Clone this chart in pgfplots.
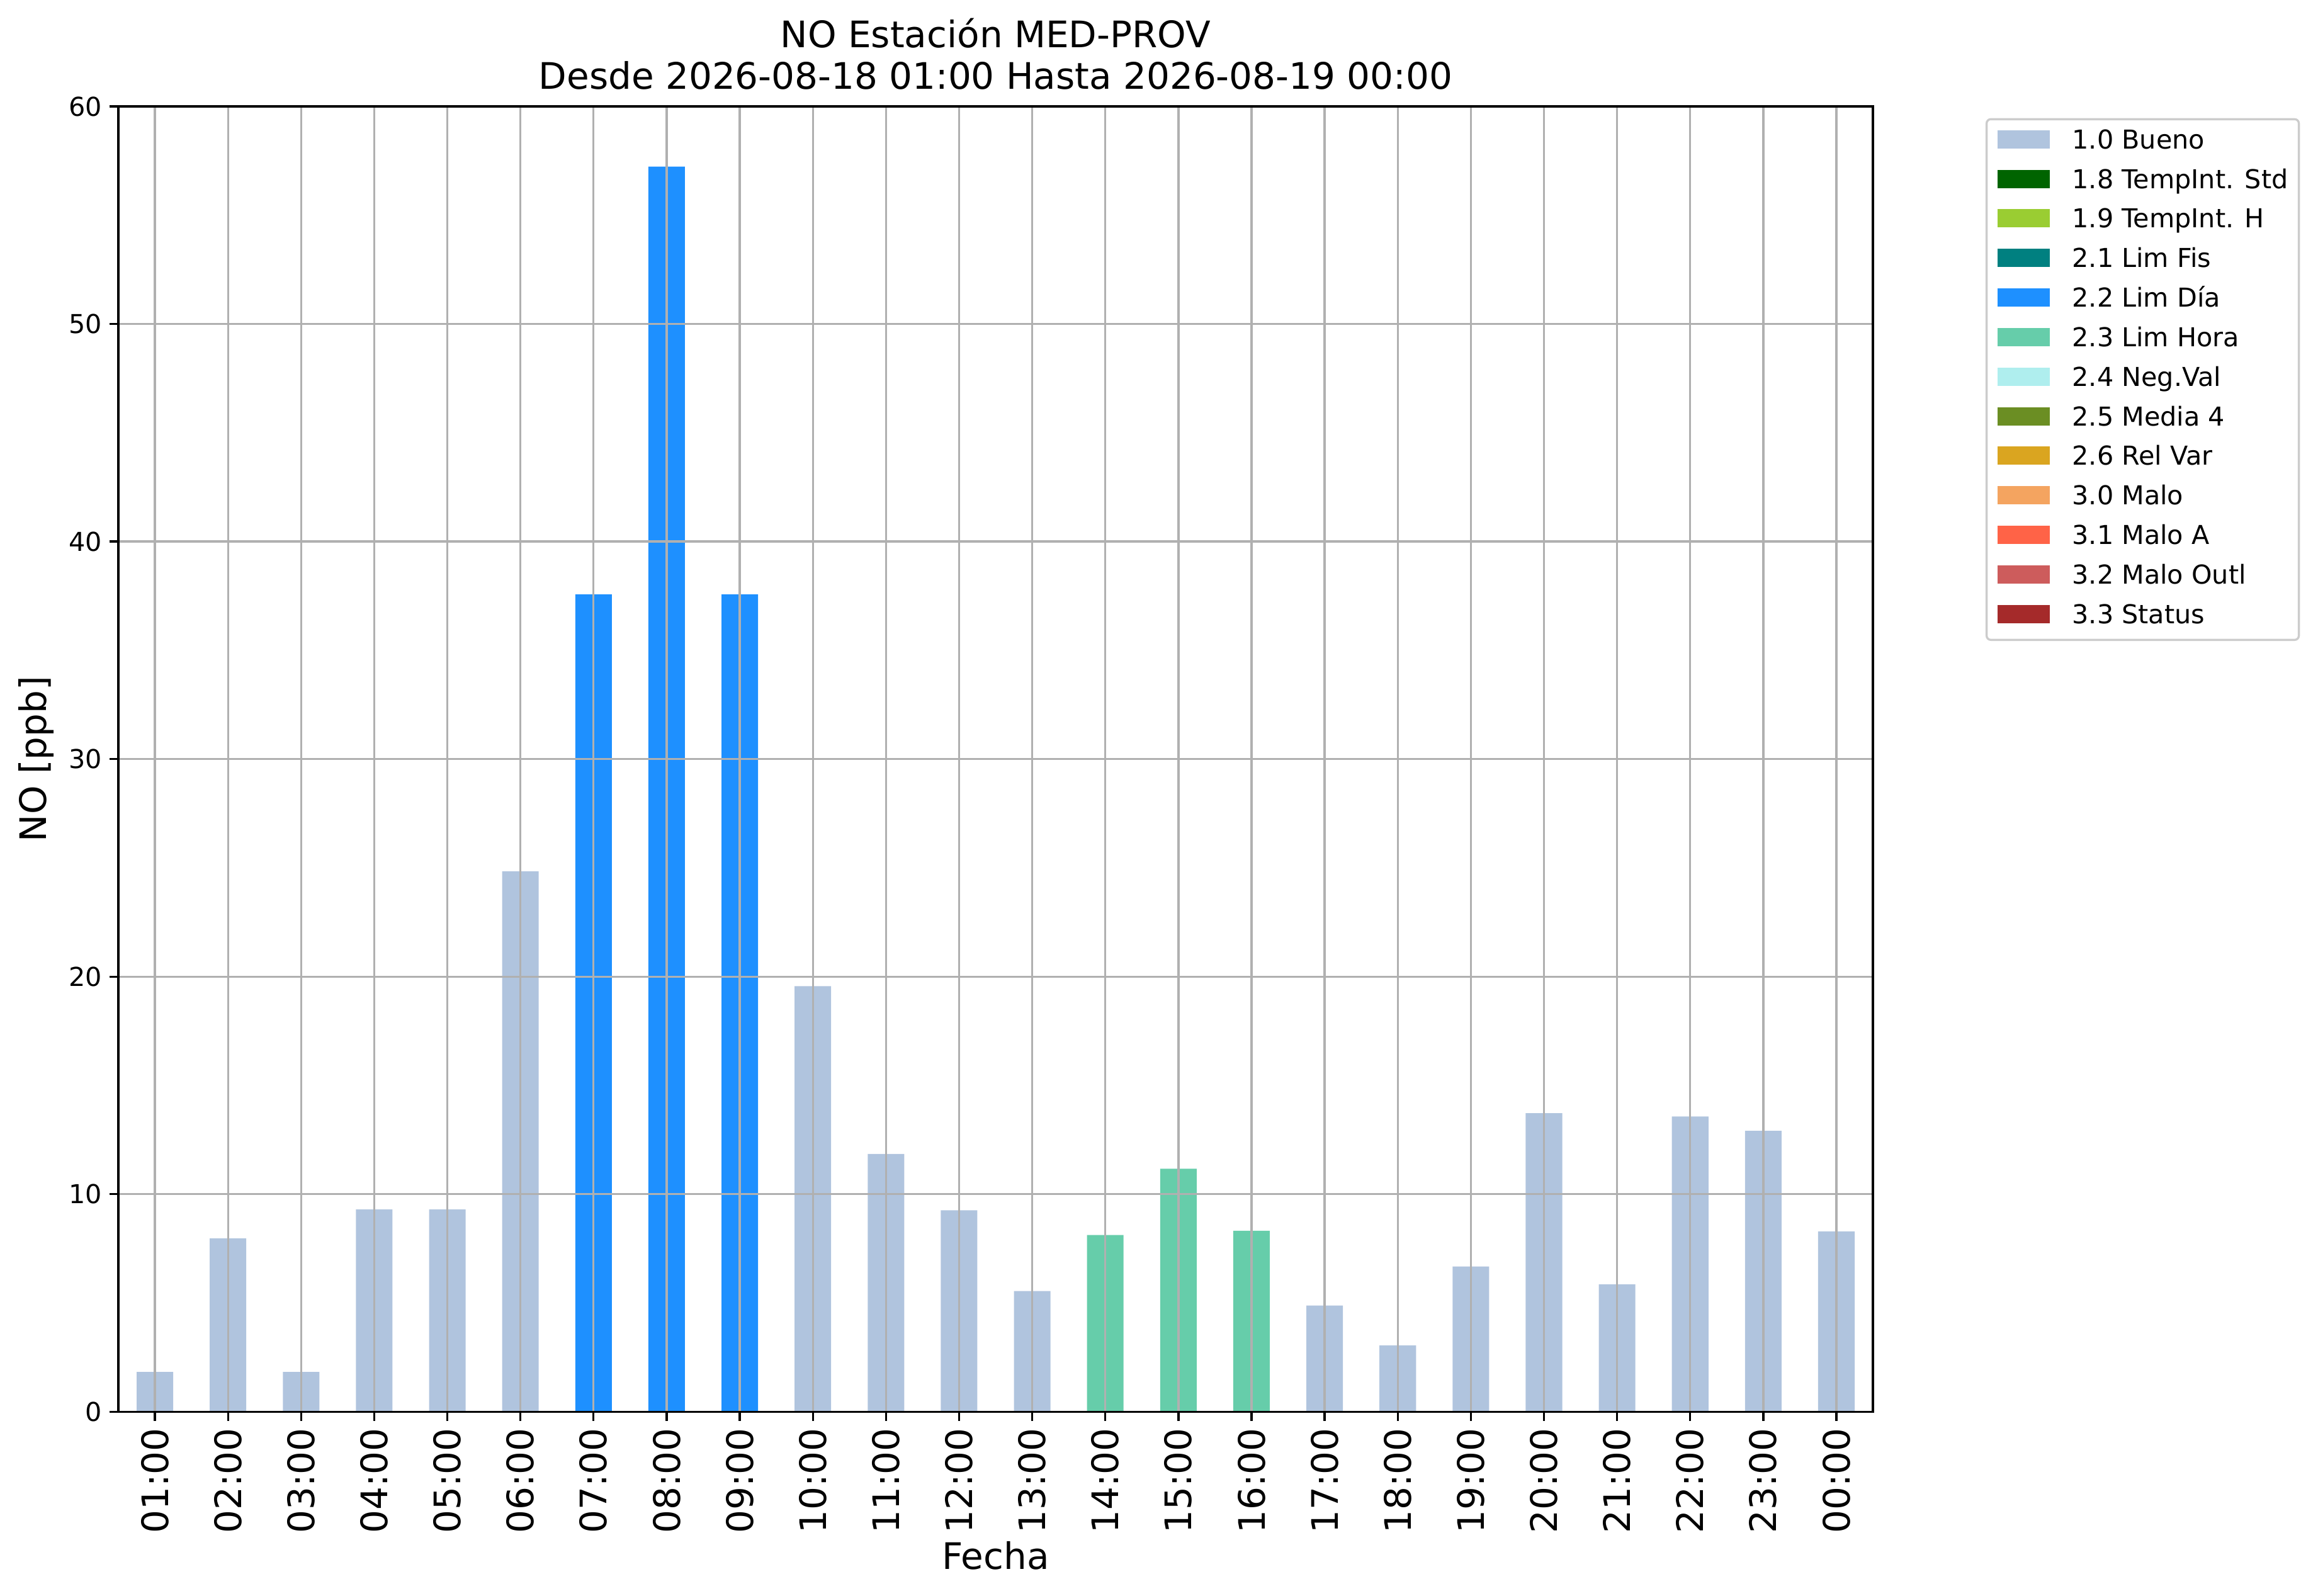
\documentclass[border=0pt]{standalone}
\usepackage{pgfplots}
\pgfplotsset{compat=1.18}
\usepackage{fontspec}
\setmainfont{DejaVu Sans}
\definecolor{cBueno}{HTML}{B0C4DE}
\definecolor{cTStd}{HTML}{006400}
\definecolor{cTH}{HTML}{9ACD32}
\definecolor{cFis}{HTML}{008080}
\definecolor{cDia}{HTML}{1E90FF}
\definecolor{cHora}{HTML}{66CDAA}
\definecolor{cNeg}{HTML}{AFEEEE}
\definecolor{cMedia}{HTML}{6B8E23}
\definecolor{cRel}{HTML}{DAA520}
\definecolor{cMalo}{HTML}{F4A460}
\definecolor{cMaloA}{HTML}{FF6347}
\definecolor{cOutl}{HTML}{CD5C5C}
\definecolor{cStatus}{HTML}{A52A2A}
\definecolor{gridgray}{HTML}{B0B0B0}
\begin{document}
\begin{tikzpicture}
\path[use as bounding box] (0,0) rectangle (1104.6pt,760.2pt);
\begin{axis}[
  at={(56.4pt,87.5pt)}, anchor=south west,
  width=836.1pt, height=622pt, scale only axis,
  xmin=-0.5, xmax=23.5, ymin=0, ymax=60,
  xtick={0,...,23},
  xticklabels={01:00,02:00,03:00,04:00,05:00,06:00,07:00,08:00,09:00,10:00,11:00,12:00,13:00,14:00,15:00,16:00,17:00,18:00,19:00,20:00,21:00,22:00,23:00,00:00},
  ytick={0,10,20,30,40,50,60},
  tick pos=left, tick align=outside,
  major tick length=4.3pt,
  every tick/.style={black, line width=1pt},
  axis line style={line width=1pt},
  grid=major,
  major grid style={gridgray, line width=1pt},
  axis on top,
  xticklabel style={rotate=90, anchor=east, font=\fontsize{17.4}{20}\selectfont},
  yticklabel style={font=\fontsize{12.4}{14}\selectfont},
  /pgf/number format/assume math mode=true,
  xlabel={Fecha}, ylabel={NO [ppb]},
  xlabel style={at={(axis description cs:0.5,-0.110)}, anchor=center, font=\fontsize{17.4}{20}\selectfont},
  ylabel style={at={(axis description cs:-0.047,0.5)}, anchor=center, rotate=0, font=\fontsize{17.4}{20}\selectfont},
  title={NO Estación MED-PROV\\Desde 2026-08-18 01:00 Hasta 2026-08-19 00:00},
  every axis title shift=0pt,
  title style={at={(axis description cs:0.5,1)}, anchor=south, yshift=7.8pt, inner sep=0pt, align=center, font=\fontsize{17.4}{19.8}\selectfont},
  legend image code/.code={\fill[#1, sharp corners] (0pt,0.15pt) rectangle (24.9pt,8.85pt);},
  legend cell align=left,
  legend style={at={(axis description cs:1.0642,0.991)}, anchor=north west,
    draw=black!20, rounded corners=2pt, line width=1pt,
    font=\fontsize{12.4}{14}\selectfont,
    inner xsep=5.1pt, inner ysep=4.45pt,
    cells={anchor=base west},
    nodes={inner sep=0pt, text height=9.6pt, text depth=3.4pt},
    row sep=5.85pt, column sep=0pt},
]
\addplot[ybar, bar width=0.5, bar shift=0pt, fill=cBueno, draw=none] coordinates {
(0,1.83) (1,7.97) (2,1.83) (3,9.30) (4,9.30) (5,24.84) (9,19.56) (10,11.85) (11,9.26) (12,5.55) (16,4.88) (17,3.05) (18,6.68) (19,13.72) (20,5.86) (21,13.57) (22,12.91) (23,8.29)};
\addlegendentry{\hspace{10.8pt}1.0 Bueno}
\addlegendimage{fill=cTStd, draw=none}
\addlegendentry{\hspace{10.8pt}1.8 TempInt. Std}
\addlegendimage{fill=cTH, draw=none}
\addlegendentry{\hspace{10.8pt}1.9 TempInt. H}
\addlegendimage{fill=cFis, draw=none}
\addlegendentry{\hspace{10.8pt}2.1 Lim Fis}
\addplot[ybar, bar width=0.5, bar shift=0pt, fill=cDia, draw=none] coordinates {
(6,37.57) (7,57.23) (8,37.57)};
\addlegendentry{\hspace{10.8pt}2.2 Lim Día}
\addplot[ybar, bar width=0.5, bar shift=0pt, fill=cHora, draw=none] coordinates {
(13,8.12) (14,11.17) (15,8.32)};
\addlegendentry{\hspace{10.8pt}2.3 Lim Hora}
\addlegendimage{fill=cNeg, draw=none}
\addlegendentry{\hspace{10.8pt}2.4 Neg.Val}
\addlegendimage{fill=cMedia, draw=none}
\addlegendentry{\hspace{10.8pt}2.5 Media 4}
\addlegendimage{fill=cRel, draw=none}
\addlegendentry{\hspace{10.8pt}2.6 Rel Var}
\addlegendimage{fill=cMalo, draw=none}
\addlegendentry{\hspace{10.8pt}3.0 Malo}
\addlegendimage{fill=cMaloA, draw=none}
\addlegendentry{\hspace{10.8pt}3.1 Malo A}
\addlegendimage{fill=cOutl, draw=none}
\addlegendentry{\hspace{10.8pt}3.2 Malo Outl}
\addlegendimage{fill=cStatus, draw=none}
\addlegendentry{\hspace{10.8pt}3.3 Status}
\end{axis}
\end{tikzpicture}
\end{document}
